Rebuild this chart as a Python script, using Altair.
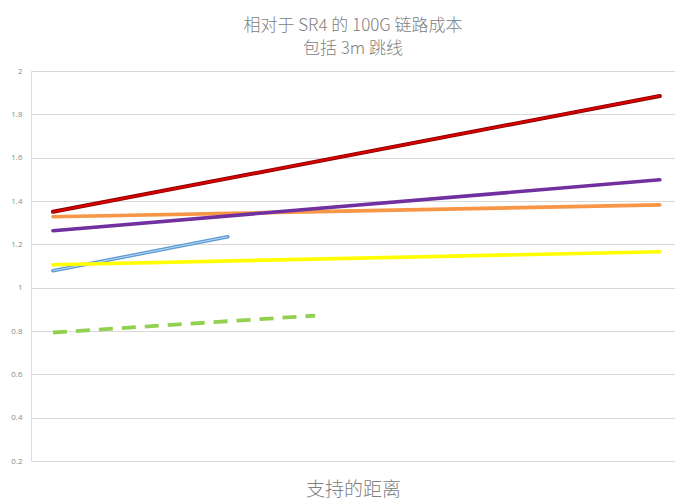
import altair as alt
import pandas as pd

# Data
series = ["red", "orange", "purple", "yellow", "blue", "green"]
x_start = [0, 0, 0, 0, 0, 0]
x_end = [100, 100, 100, 100, 28.8, 43.2]
y_start = [1.35, 1.327, 1.263, 1.106, 1.078, 0.793]
y_end = [1.885, 1.382, 1.498, 1.166, 1.235, 0.871]
colors = ["#c00000", "#f79646", "#7030a0", "#ffff00", "#5b9bd5", "#92d050"]
y_ticks = [0.2, 0.4, 0.6, 0.8, 1.0, 1.2, 1.4, 1.6, 1.8, 2.0]

rows = []
for s, xs, xe, ys, ye in zip(series, x_start, x_end, y_start, y_end):
    rows.append({"series": s, "x": xs, "y": ys})
    rows.append({"series": s, "x": xe, "y": ye})
df = pd.DataFrame(rows)

font = "Noto Sans CJK SC"

xenc = alt.X("x:Q", scale=alt.Scale(domain=[-3.62, 102.5], nice=False, zero=False),
             axis=alt.Axis(labels=False, ticks=False, domain=False, grid=False,
                           title="支持的距离", titleFontSize=19, titleFont=font,
                           titleFontWeight=300, titleColor="#808080", titlePadding=19))
yenc = alt.Y("y:Q", scale=alt.Scale(domain=[0.2, 2.0], nice=False, zero=False),
             axis=alt.Axis(values=y_ticks, format=".1~f", title=None, domain=False, ticks=False,
                           labelFontSize=8, labelColor="#8c8c8c", labelPadding=9,
                           gridColor="#d9d9d9", gridWidth=1, labelFont="Open Sans"))
cscale = alt.Scale(domain=series, range=colors)

base = alt.Chart(df).encode(x=xenc, y=yenc, detail="series:N")

solid = ["yellow", "orange", "purple"]
solid_layer = base.transform_filter(
    alt.FieldOneOfPredicate(field="series", oneOf=solid)
).mark_line(strokeWidth=3.6, strokeCap="round").encode(
    color=alt.Color("series:N", scale=cscale, legend=None))

red_outer = base.transform_filter(alt.datum.series == "red").mark_line(
    strokeWidth=4, color="#8b0000", strokeCap="round")
red_inner = base.transform_filter(alt.datum.series == "red").mark_line(
    strokeWidth=2.2, color="#d40000", strokeCap="round")

blue_outer = base.transform_filter(alt.datum.series == "blue").mark_line(
    strokeWidth=3.6, color="#5b9bd5", strokeCap="round")
blue_inner = base.transform_filter(alt.datum.series == "blue").mark_line(
    strokeWidth=0.8, color="#d6e8f7")

green = base.transform_filter(alt.datum.series == "green").mark_line(
    strokeWidth=3.8, color="#92d050", strokeDash=[14, 9])

chart = alt.layer(blue_outer, blue_inner, solid_layer, red_outer, red_inner, green).properties(
    width=644, height=390,
    autosize=alt.AutoSizeParams(type="none"),
    padding={"left": 31, "top": 71, "right": 0, "bottom": 41},
    title=alt.Title(["相对于 SR4 的 100G 链路成本", "包括 3m 跳线"], font=font, fontSize=17,
                    fontWeight=300, color="#808080", anchor="middle", offset=9,
                    lineHeight=23),
).configure_view(stroke=None).configure(background="white")

chart.save("out.html", embed_options={"renderer": "svg", "actions": False})
